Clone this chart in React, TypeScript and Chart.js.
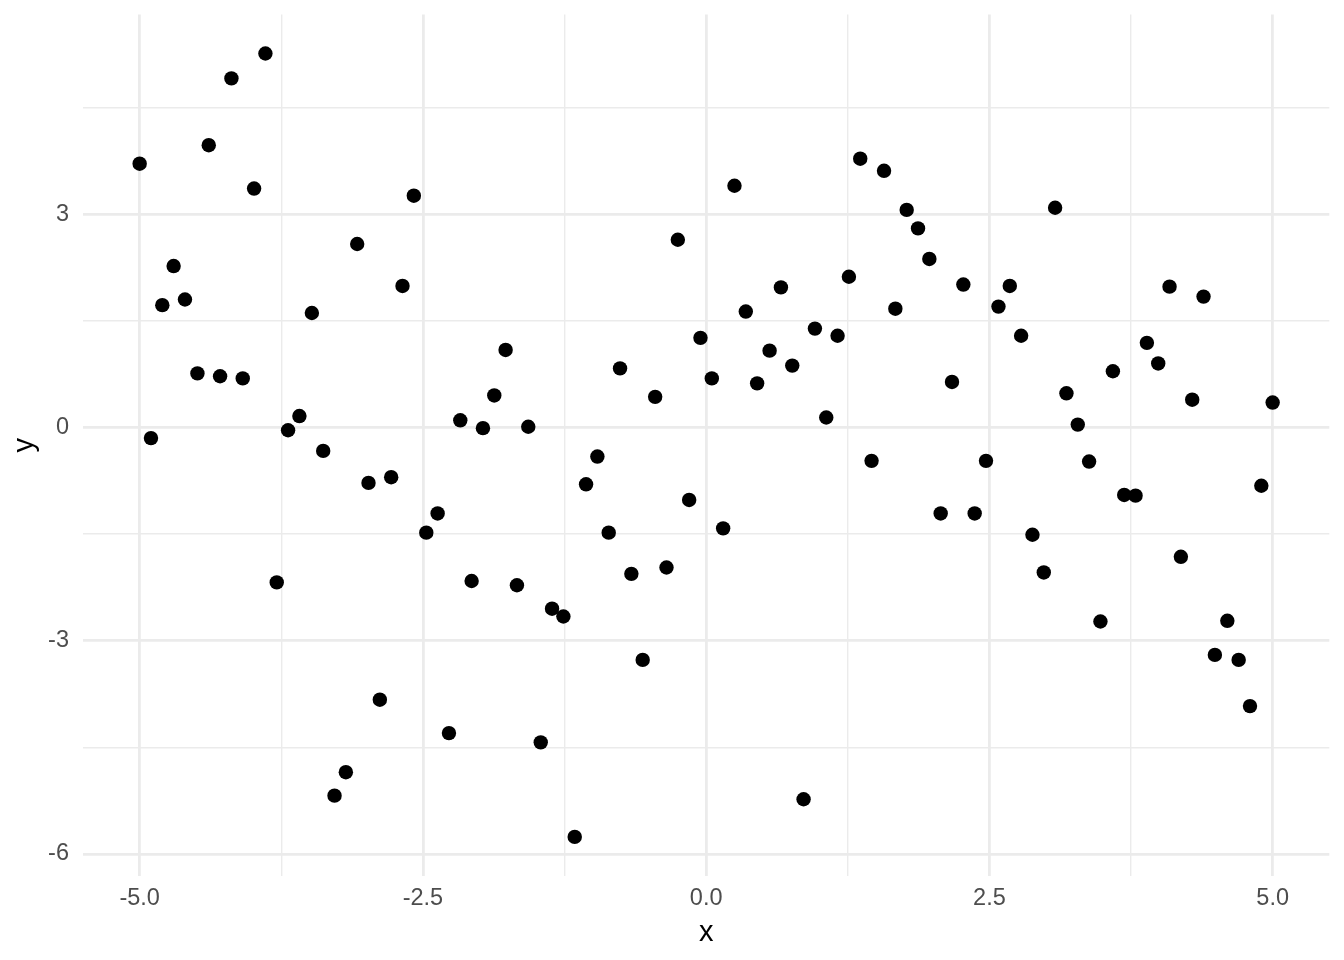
import React, { useEffect, useRef } from "react";
import { Chart, registerables } from "chart.js";

Chart.register(...registerables);

const xValues = [
  -5.0, -4.9, -4.8, -4.7, -4.6, -4.49, -4.39, -4.29, -4.19, -4.09,
  -3.99, -3.89, -3.79, -3.69, -3.59, -3.48, -3.38, -3.28, -3.18, -3.08,
  -2.98, -2.88, -2.78, -2.68, -2.58, -2.47, -2.37, -2.27, -2.17, -2.07,
  -1.97, -1.87, -1.77, -1.67, -1.57, -1.46, -1.36, -1.26, -1.16, -1.06,
  -0.96, -0.86, -0.76, -0.66, -0.56, -0.45, -0.35, -0.25, -0.15, -0.05,
  0.05, 0.15, 0.25, 0.35, 0.45, 0.56, 0.66, 0.76, 0.86, 0.96,
  1.06, 1.16, 1.26, 1.36, 1.46, 1.57, 1.67, 1.77, 1.87, 1.97,
  2.07, 2.17, 2.27, 2.37, 2.47, 2.58, 2.68, 2.78, 2.88, 2.98,
  3.08, 3.18, 3.28, 3.38, 3.48, 3.59, 3.69, 3.79, 3.89, 3.99,
  4.09, 4.19, 4.29, 4.39, 4.49, 4.6, 4.7, 4.8, 4.9, 5.0,
];

const yValues = [
  3.71, -0.15, 1.72, 2.27, 1.8, 0.76, 3.97, 0.72, 4.91, 0.69,
  3.36, 5.26, -2.18, -0.04, 0.16, 1.61, -0.33, -5.18, -4.85, 2.58,
  -0.78, -3.83, -0.7, 1.99, 3.26, -1.48, -1.21, -4.3, 0.1, -2.16,
  -0.01, 0.45, 1.09, -2.22, 0.01, -4.43, -2.55, -2.66, -5.76, -0.8,
  -0.41, -1.48, 0.83, -2.06, -3.27, 0.43, -1.97, 2.64, -1.02, 1.26,
  0.69, -1.42, 3.4, 1.63, 0.62, 1.08, 1.97, 0.87, -5.23, 1.39,
  0.14, 1.29, 2.12, 3.78, -0.47, 3.61, 1.67, 3.06, 2.8, 2.37,
  -1.21, 0.64, 2.01, -1.21, -0.47, 1.7, 1.99, 1.29, -1.51, -2.04,
  3.09, 0.48, 0.04, -0.48, -2.73, 0.79, -0.95, -0.96, 1.19, 0.9,
  1.98, -1.82, 0.39, 1.84, -3.2, -2.72, -3.27, -3.92, -0.82, 0.35,
];

const xMajorTicks = [-5, -2.5, 0, 2.5, 5];
const xTickLabels = ["-5.0", "-2.5", "0.0", "2.5", "5.0"];
const xMinorTicks = [-3.75, -1.25, 1.25, 3.75];

const yMajorTicks = [-6, -3, 0, 3];
const yTickLabels = ["-6", "-3", "0", "3"];
const yMinorTicks = [-4.5, -1.5, 1.5, 4.5];

const xTitle = "x";
const yTitle = "y";

const FONT = "'Liberation Sans', Arial, Helvetica, sans-serif";
const GRID = "#EBEBEB";
const TICK_COLOR = "#4D4D4D";

export default function App() {
  const ref = useRef<HTMLCanvasElement>(null);

  useEffect(() => {
    const canvas = ref.current;
    if (!canvas) return;
    const points = xValues.map((x, i) => ({ x, y: yValues[i] }));
    const chart = new Chart(canvas, {
      type: "scatter",
      data: {
        datasets: [
          {
            data: points,
            backgroundColor: "#000000",
            borderColor: "#000000",
            borderWidth: 0,
            pointRadius: 7.2,
            pointHoverRadius: 7.2,
          },
        ],
      },
      options: {
        responsive: false,
        animation: false,
        devicePixelRatio: 1,
        layout: { padding: { left: 0, top: 14.4, right: 14.7, bottom: 0 } },
        plugins: {
          legend: { display: false },
          tooltip: { enabled: false },
        },
        scales: {
          x: {
            type: "linear",
            min: -5.5,
            max: 5.5,
            afterBuildTicks: (s: any) => {
              s.ticks = [...xMajorTicks, ...xMinorTicks]
                .sort((a, b) => a - b)
                .map((v) => ({ value: v }));
            },
            afterFit: (s: any) => {
              s.height = 84;
              s.paddingLeft = 0;
              s.paddingRight = 0;
            },
            border: { display: false },
            grid: {
              color: GRID,
              drawTicks: false,
              tickLength: 0,
              lineWidth: (ctx: any) =>
                ctx.tick && xMajorTicks.includes(ctx.tick.value) ? 2.8 : 1.4,
            },
            ticks: {
              autoSkip: false,
              maxRotation: 0,
              padding: 8,
              color: TICK_COLOR,
              font: { family: FONT, size: 23.5 },
              callback: (v: any) => {
                const i = xMajorTicks.indexOf(Number(v));
                return i >= 0 ? xTickLabels[i] : "";
              },
            },
            title: {
              display: true,
              text: xTitle,
              color: "#000000",
              font: { family: FONT, size: 29 },
              padding: { top: 0, bottom: 10 },
            },
          },
          y: {
            type: "linear",
            min: -6.31,
            max: 5.81,
            afterBuildTicks: (s: any) => {
              s.ticks = [...yMajorTicks, ...yMinorTicks]
                .sort((a, b) => a - b)
                .map((v) => ({ value: v }));
            },
            afterFit: (s: any) => {
              s.width = 83;
              s.paddingTop = 0;
              s.paddingBottom = 0;
            },
            border: { display: false },
            grid: {
              color: GRID,
              drawTicks: false,
              tickLength: 0,
              lineWidth: (ctx: any) =>
                ctx.tick && yMajorTicks.includes(ctx.tick.value) ? 2.8 : 1.4,
            },
            ticks: {
              autoSkip: false,
              padding: 14,
              color: TICK_COLOR,
              font: { family: FONT, size: 23.5 },
              callback: (v: any) => {
                const i = yMajorTicks.indexOf(Number(v));
                return i >= 0 ? yTickLabels[i] : "";
              },
            },
            title: {
              display: true,
              text: yTitle,
              color: "#000000",
              font: { family: FONT, size: 29 },
              padding: { top: 8, bottom: 0 },
            },
          },
        },
      },
    });
    return () => chart.destroy();
  }, []);

  return (
    <div
      style={{
        position: "fixed",
        left: 0,
        top: 0,
        width: 1344,
        height: 960,
        background: "#ffffff",
      }}
    >
      <canvas ref={ref} width={1344} height={960} style={{ display: "block" }} />
    </div>
  );
}
